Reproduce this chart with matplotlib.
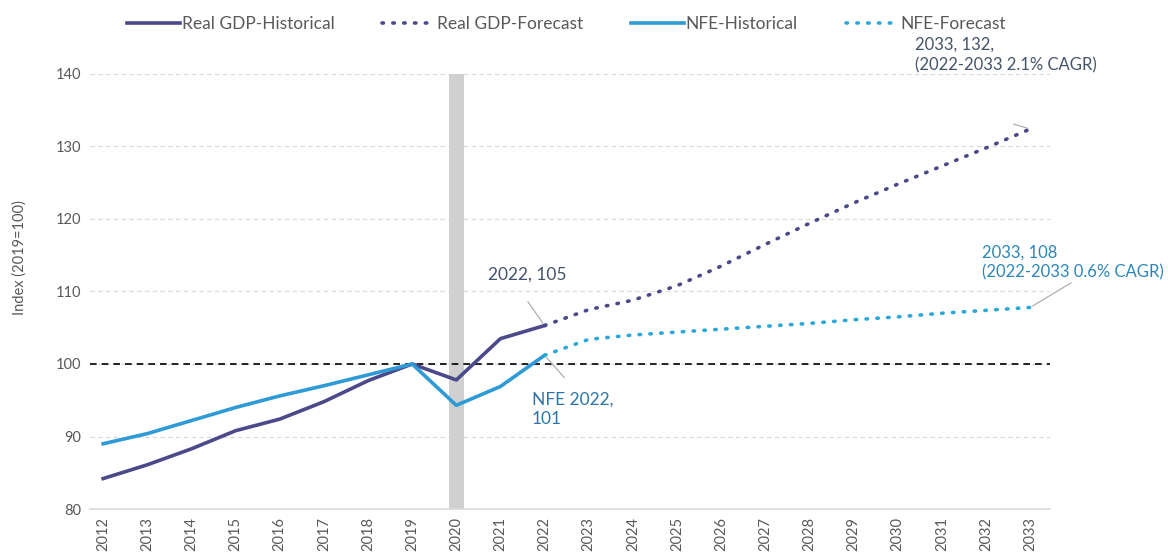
import matplotlib.pyplot as plt

plt.rcParams['font.family'] = ['Lato', 'DejaVu Sans']

years = list(range(2012, 2034))
hist_years = years[:11]      # 2012-2022
fcst_years = years[10:]      # 2022-2033

gdp_hist = [84.2, 86.1, 88.3, 90.8, 92.4, 94.8, 97.7, 100.0, 97.8, 103.5, 105.3]
gdp_fcst = [105.3, 107.5, 108.8, 110.8, 113.5, 116.5, 119.4, 122.2, 124.8, 127.3, 129.8, 132.4]
nfe_hist = [89.0, 90.4, 92.2, 94.0, 95.6, 97.0, 98.5, 100.0, 94.3, 96.9, 101.2]
nfe_fcst = [101.2, 103.4, 104.0, 104.4, 104.8, 105.2, 105.6, 106.1, 106.5, 107.0, 107.4, 107.8]

c_gdp = '#4a4a8a'
c_nfe = '#2e9ad6'
c_nfe_f = '#2ba8d8'
grey_txt = '#595959'
dots = (0, (0.4, 2.6))

fig = plt.figure(figsize=(11.68, 5.56), dpi=100)
ax = fig.add_axes([0.077, 0.0845, 0.822, 0.7825])

# covid year shading
ax.axvspan(2019.83, 2020.17, color='#d0d0d0', zorder=1, lw=0)

ax.axhline(100, color='black', ls=(0, (4, 3)), lw=1.2, zorder=2)

ax.plot(hist_years, gdp_hist, color=c_gdp, lw=2.6, label='Real GDP-Historical', zorder=4)
ax.plot(fcst_years, gdp_fcst, color=c_gdp, lw=2.6, ls=dots, dash_capstyle='round',
        label='Real GDP-Forecast', zorder=4)
ax.plot(hist_years, nfe_hist, color=c_nfe, lw=2.6, label='NFE-Historical', zorder=4)
ax.plot(fcst_years, nfe_fcst, color=c_nfe_f, lw=2.6, ls=dots, dash_capstyle='round',
        label='NFE-Forecast', zorder=4)

ax.set_xlim(2011.7, 2033.45)
ax.set_ylim(80, 140)
ax.set_yticks(range(80, 141, 10))
ax.set_xticks(years)
ax.set_xticklabels([str(y) for y in years], rotation=90)
ax.tick_params(length=0, labelsize=10.5, labelcolor=grey_txt, pad=6)
ax.grid(axis='y', color='#d9d9d9', ls=(0, (4, 3)), lw=0.8)
ax.set_axisbelow(True)
for s in ['top', 'right', 'left']:
    ax.spines[s].set_visible(False)
ax.spines['bottom'].set_color('#d9d9d9')
ax.spines['bottom'].set_linewidth(1.2)

fig.text(20 / 1168, 1 - 258 / 556, 'Index (2019=100)', rotation=90, ha='center', va='center',
         fontsize=10.5, color=grey_txt)

# value labels
ax.text(2020.71, 112.3, '2022, 105', fontsize=12.5, color='#44546a', va='center')
ax.text(2021.71, 93.7, 'NFE 2022,\n101', fontsize=12.5, color='#2e75a6', va='center',
        linespacing=1.25)
ax.text(2030.39, 142.6, '2033, 132,\n(2022-2033 2.1% CAGR)', fontsize=12, color='#44546a',
        va='center', linespacing=1.3, clip_on=False)
ax.text(2031.91, 114.0, '2033, 108\n(2022-2033 0.6% CAGR)', fontsize=12, color='#2e86b8',
        va='center', linespacing=1.3, clip_on=False)

# leader lines from the labels to the 2022 and 2033 points
lead = dict(arrowstyle='-', color='#a6a6a6', lw=0.8, shrinkA=0, shrinkB=2)
ax.annotate('', xy=(2022, gdp_hist[-1]), xytext=(2021.62, 108.6), arrowprops=lead)
ax.annotate('', xy=(2022, nfe_hist[-1]), xytext=(2022.45, 98.1), arrowprops=lead)
ax.annotate('', xy=(2033, gdp_fcst[-1]), xytext=(2032.62, 133.1), arrowprops=lead)
ax.annotate('', xy=(2033, nfe_fcst[-1]), xytext=(2033.93, 111.2), arrowprops=lead,
            annotation_clip=False)

fig.legend(loc='upper center', bbox_to_anchor=(0.485, 1.0), ncol=4, frameon=False,
           fontsize=12.5, handlelength=3.05, handletextpad=0.1, columnspacing=2.75,
           labelcolor=grey_txt)

fig.savefig('out.png', dpi=100)
